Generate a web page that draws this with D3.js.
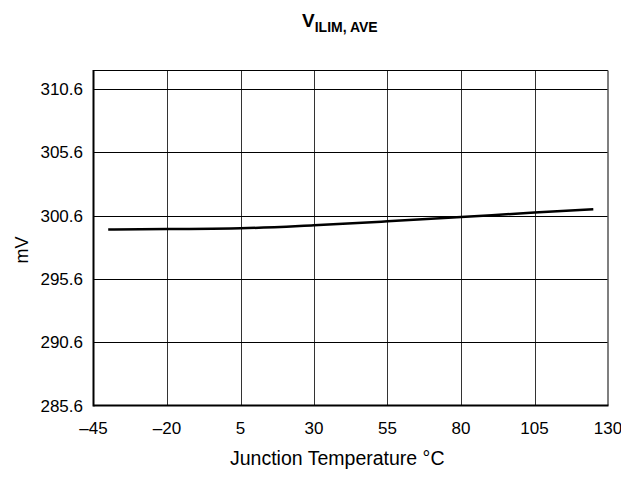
<!DOCTYPE html>
<html><head><meta charset="utf-8">
<script src="https://cdn.jsdelivr.net/npm/d3@7"></script>
<style>body{margin:0;background:#fff}svg{display:block}text{font-family:"Liberation Sans",Arial,sans-serif;fill:#000}</style>
</head><body>
<svg id="c" width="621" height="497"></svg>
<script>
const temps = [-40, -20, 5, 30, 55, 80, 105, 125];
const mv = [299.49, 299.53, 299.59, 299.83, 300.14, 300.48, 300.83, 301.09];
const xTicks = [-45, -20, 5, 30, 55, 80, 105, 130];
const yTicks = [285.6, 290.6, 295.6, 300.6, 305.6, 310.6];
const xDomain = [-45, 130];
const yDomain = [285.6, 312.05];

const svg = d3.select("#c");
const L = 93.5, R = 608, T = 70.5, B = 405.5;
const x = d3.scaleLinear().domain(xDomain).range([L, R]);
const y = d3.scaleLinear().domain(yDomain).range([B, T]);

const g = svg.append("g");
// grid
g.selectAll(".vg").data(xTicks.slice(1, -1)).join("line")
  .attr("x1", d => Math.round(x(d)) + 0.5).attr("x2", d => Math.round(x(d)) + 0.5)
  .attr("y1", T).attr("y2", B).attr("stroke", "#333").attr("stroke-width", 1);
g.selectAll(".hg").data(yTicks.slice(1)).join("line")
  .attr("y1", d => Math.round(y(d)) + 0.5).attr("y2", d => Math.round(y(d)) + 0.5)
  .attr("x1", L).attr("x2", R).attr("stroke", "#000").attr("stroke-width", 1);
// borders
g.append("line").attr("x1", L).attr("x2", R).attr("y1", T).attr("y2", T).attr("stroke", "#000").attr("stroke-width", 1);
g.append("line").attr("x1", R).attr("x2", R).attr("y1", T).attr("y2", B).attr("stroke", "#555").attr("stroke-width", 1.5);
g.append("line").attr("x1", L).attr("x2", L).attr("y1", T - 0.5).attr("y2", B + 1).attr("stroke", "#000").attr("stroke-width", 2);
g.append("line").attr("x1", L).attr("x2", R + 0.5).attr("y1", B).attr("y2", B).attr("stroke", "#000").attr("stroke-width", 2);

// data line
g.append("path").datum(temps.map((t, i) => [t, mv[i]]))
  .attr("d", d3.line().x(d => x(d[0])).y(d => y(d[1])).curve(d3.curveMonotoneX))
  .attr("fill", "none").attr("stroke", "#000").attr("stroke-width", 2.5);

// tick labels
svg.selectAll(".xl").data(xTicks).join("text")
  .attr("x", d => x(d)).attr("y", 434).attr("text-anchor", "middle")
  .attr("font-size", 17).text(d => d < 0 ? "\u2013" + Math.abs(d) : d);
svg.selectAll(".yl").data(yTicks).join("text")
  .attr("x", 83).attr("y", d => y(d) + 6).attr("text-anchor", "end")
  .attr("font-size", 17).text(d => d.toFixed(1));

// axis titles
svg.append("text").attr("x", 230).attr("y", 465).attr("text-anchor", "start")
  .attr("font-size", 19.5).text("Junction Temperature \u00B0C");
svg.append("text").attr("transform", "translate(28,250) rotate(-90)")
  .attr("text-anchor", "middle").attr("font-size", 18).text("mV");

// chart title
const title = svg.append("text").attr("x", 302).attr("y", 27).attr("text-anchor", "start").attr("font-weight", "bold");
title.append("tspan").attr("font-size", 19).text("V");
title.append("tspan").attr("font-size", 14).attr("dy", 5).text("ILIM, AVE");
</script>
</body></html>
